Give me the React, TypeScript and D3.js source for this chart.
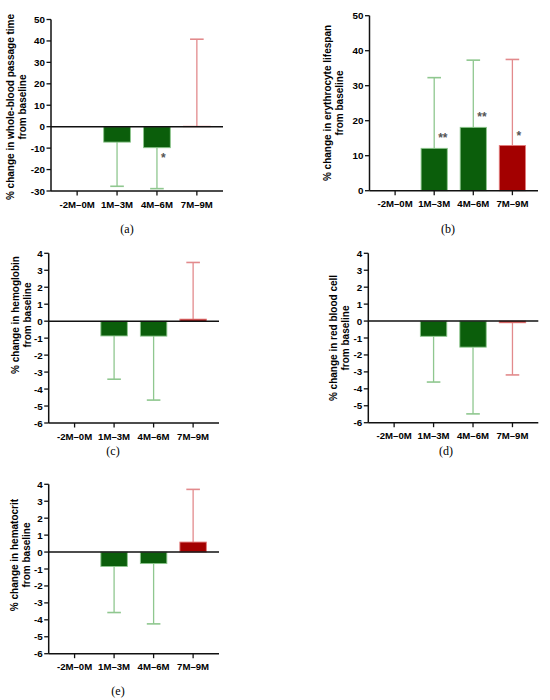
import * as d3 from 'd3'

const CATEGORIES = ['-2M–0M', '1M–3M', '4M–6M', '7M–9M']
const BAR_KIND = ['none', 'green', 'green', 'red']

// mean change and end of the one-sided error bar (mean ± SD)
const PASSAGE_MEAN = [0, -7.2, -9.8, 0.2]
const PASSAGE_ERR = [0, -27.8, -28.9, 40.8]
const PASSAGE_SIG = ['', '', '*', '']

const LIFESPAN_MEAN = [0, 12.1, 18.1, 12.9]
const LIFESPAN_ERR = [0, 32.3, 37.3, 37.5]
const LIFESPAN_SIG = ['', '**', '**', '*']

const HB_MEAN = [0, -0.87, -0.88, 0.12]
const HB_ERR = [0, -3.42, -4.65, 3.46]

const RBC_MEAN = [0, -0.9, -1.54, -0.1]
const RBC_ERR = [0, -3.6, -5.48, -3.18]

const HCT_MEAN = [0, -0.85, -0.68, 0.59]
const HCT_ERR = [0, -3.57, -4.24, 3.7]

const TICKS_PASSAGE = [-30, -20, -10, 0, 10, 20, 30, 40, 50]
const TICKS_LIFESPAN = [0, 10, 20, 30, 40, 50]
const TICKS_SMALL = [-6, -5, -4, -3, -2, -1, 0, 1, 2, 3, 4]

const COLORS = {
  green: { fill: '#0b5e0b', stroke: '#8cc68c', err: '#8fc78f' },
  red: { fill: '#a30000', stroke: '#e27a7a', err: '#e28a8c' },
}
const AXIS = '#111'
const SANS = '"Liberation Sans", Arial, sans-serif'

interface PanelProps {
  left: number
  right: number
  top: number
  bottom: number
  ticks: number[]
  mean: number[]
  err: number[]
  sig?: string[]
  label: string[]
  labelX: number
  labelY: number
  caption: string
  captionX: number
  captionY: number
}

function Panel(p: PanelProps) {
  const yMin = d3.min(p.ticks)!
  const yMax = d3.max(p.ticks)!
  const y = d3.scaleLinear().domain([yMin, yMax]).range([p.bottom, p.top])
  const x = d3.scaleBand<string>()
    .domain(CATEGORIES)
    .range([p.left, p.right])
    .paddingInner(0.33)
    .paddingOuter(0.32)
  const bw = x.bandwidth()
  const capHalf = 6.8

  return (
    <g>
      {/* bars and error bars */}
      {CATEGORIES.map((c, i) => {
        const kind = BAR_KIND[i]
        if (kind === 'none') return null
        const col = COLORS[kind as 'green' | 'red']
        const cx = x(c)! + bw / 2
        const v = p.mean[i]
        const e = p.err[i]
        const y0 = y(0)
        const yv = y(v)
        const ye = y(e)
        return (
          <g key={c}>
            <line x1={cx} x2={cx} y1={yv} y2={ye} stroke={col.err} strokeWidth={1.3} />
            <line x1={cx - capHalf} x2={cx + capHalf} y1={ye} y2={ye} stroke={col.err} strokeWidth={1.6} />
            <rect
              x={x(c)!}
              y={Math.min(y0, yv)}
              width={bw}
              height={Math.max(Math.abs(yv - y0), 0.01)}
              fill={col.fill}
              stroke={col.stroke}
              strokeWidth={0.9}
            />
            {p.sig && p.sig[i] && (
              <text
                x={cx + 4}
                y={v >= 0 ? yv - 6 : yv + 14}
                fontFamily={SANS}
                fontWeight="bold"
                fontSize={12}
                fill="#555"
              >
                {p.sig[i]}
              </text>
            )}
          </g>
        )
      })}

      {/* zero line */}
      {yMin < 0 && (
        <line x1={p.left} x2={p.right} y1={y(0)} y2={y(0)} stroke={AXIS} strokeWidth={1.5} />
      )}

      {/* y axis */}
      <line x1={p.left} x2={p.left} y1={p.top} y2={p.bottom} stroke={AXIS} strokeWidth={1.5} />
      {p.ticks.map(t => (
        <g key={t}>
          <line x1={p.left - 4.5} x2={p.left} y1={y(t)} y2={y(t)} stroke={AXIS} strokeWidth={1.3} />
          <text
            x={p.left - 6}
            y={y(t)}
            textAnchor="end"
            dominantBaseline="central"
            fontFamily={SANS}
            fontWeight="bold"
            fontSize={9.8}
          >
            {t}
          </text>
        </g>
      ))}

      {/* x axis */}
      <line x1={p.left} x2={p.right} y1={p.bottom} y2={p.bottom} stroke={AXIS} strokeWidth={1.5} />
      {CATEGORIES.map(c => {
        const cx = x(c)! + bw / 2
        return (
          <g key={c}>
            <line x1={cx} x2={cx} y1={p.bottom} y2={p.bottom + 4.5} stroke={AXIS} strokeWidth={1.3} />
            <text
              x={cx}
              y={p.bottom + 13}
              textAnchor="middle"
              dominantBaseline="central"
              fontFamily={SANS}
              fontWeight="bold"
              fontSize={9.6}
            >
              {c}
            </text>
          </g>
        )
      })}

      {/* y label */}
      <text
        transform={`translate(${p.labelX},${p.labelY}) rotate(-90)`}
        textAnchor="middle"
        fontFamily={SANS}
        fontWeight="bold"
        fontSize={10}
      >
        <tspan x={0} dy={0} dominantBaseline="central">{p.label[0]}</tspan>
        <tspan x={0} dy={12.5} dominantBaseline="central">{p.label[1]}</tspan>
      </text>

      <text
        x={p.captionX}
        y={p.captionY}
        textAnchor="middle"
        dominantBaseline="central"
        fontFamily='"Liberation Serif", "DejaVu Serif", serif'
        fontSize={12}
      >
        {p.caption}
      </text>
    </g>
  )
}

export default function App() {
  return (
    <svg
      width={550}
      height={700}
      style={{ position: 'absolute', left: 0, top: 0, background: '#fff' }}
    >
      <Panel
        left={51} right={223} top={19.5} bottom={191}
        ticks={TICKS_PASSAGE} mean={PASSAGE_MEAN} err={PASSAGE_ERR} sig={PASSAGE_SIG}
        label={['% change in whole-blood passage time', 'from baseline']}
        labelX={10} labelY={107}
        caption="(a)" captionX={127} captionY={229}
      />
      <Panel
        left={369.5} right={538} top={15.7} bottom={190.7}
        ticks={TICKS_LIFESPAN} mean={LIFESPAN_MEAN} err={LIFESPAN_ERR} sig={LIFESPAN_SIG}
        label={['% change in erythrocyte lifespan', 'from baseline']}
        labelX={327} labelY={103}
        caption="(b)" captionX={448} captionY={229}
      />
      <Panel
        left={48.7} right={219} top={253.3} bottom={423}
        ticks={TICKS_SMALL} mean={HB_MEAN} err={HB_ERR}
        label={['% change in hemoglobin', 'from baseline']}
        labelX={15} labelY={315}
        caption="(c)" captionX={113} captionY={451}
      />
      <Panel
        left={368.3} right={538.3} top={253.3} bottom={422.7}
        ticks={TICKS_SMALL} mean={RBC_MEAN} err={RBC_ERR}
        label={['% change in red blood cell', 'from baseline']}
        labelX={333} labelY={338}
        caption="(d)" captionX={446} captionY={451}
      />
      <Panel
        left={48.7} right={219} top={484.3} bottom={653.7}
        ticks={TICKS_SMALL} mean={HCT_MEAN} err={HCT_ERR}
        label={['% change in hematocrit', 'from baseline']}
        labelX={14} labelY={555}
        caption="(e)" captionX={118} captionY={691}
      />
    </svg>
  )
}
